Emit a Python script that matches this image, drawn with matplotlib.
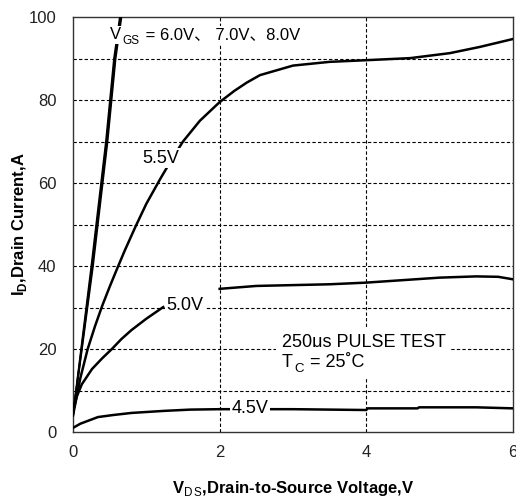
import matplotlib
matplotlib.use('Agg')
import matplotlib.pyplot as plt

plt.rcParams['font.family'] = ['Liberation Sans', 'Noto Sans CJK SC', 'DejaVu Sans']
plt.rcParams['mathtext.fontset'] = 'custom'
plt.rcParams['mathtext.rm'] = 'Liberation Sans'
plt.rcParams['mathtext.bf'] = 'Liberation Sans:bold'

# output characteristics
vgs6_x = [0, 0.25, 0.45, 0.56, 0.64]
vgs7_x = [0, 0.26, 0.46, 0.57, 0.65]
vgs8_x = [0, 0.27, 0.47, 0.58, 0.66]
vgs_hi_y = [4, 39.8, 70, 90, 100]

vgs55_x = [0, 0.1, 0.2, 0.3, 0.4, 0.5, 0.6, 0.71, 0.85, 1.0, 1.19, 1.35, 1.50, 1.73,
           2.0, 2.2, 2.37, 2.55, 3.0, 3.5, 4.0, 4.6, 5.14, 5.55, 6.0]
vgs55_y = [4, 13, 20, 25.5, 30.5, 35, 39.3, 43.9, 49.4, 55, 61, 65.8, 70, 75,
           79.5, 82.2, 84.2, 86, 88.3, 89.2, 89.6, 90.1, 91.3, 92.8, 94.7]

vgs50_x = [0, 0.05, 0.12, 0.26, 0.40, 0.53, 0.66, 0.80, 1.0, 1.23]
vgs50_y = [5, 8.5, 11.5, 15.2, 17.8, 20, 22.4, 24.6, 27.3, 30.1]
vgs50b_x = [2, 2.5, 3, 3.5, 4, 4.5, 5, 5.5, 5.8, 6]
vgs50b_y = [34.5, 35.2, 35.4, 35.6, 36, 36.6, 37.2, 37.5, 37.4, 36.8]

vgs45_x = [0, 0.1, 0.34, 0.55, 0.8, 1.25, 1.6, 2, 3, 3.5, 4, 4.02, 4.7, 4.72, 5.5, 6]
vgs45_y = [1, 2.0, 3.6, 4.1, 4.6, 5.1, 5.4, 5.5, 5.5, 5.4, 5.3, 5.7, 5.7, 5.95, 5.95, 5.7]

xticks = [0, 2, 4, 6]
yticks = [0, 20, 40, 60, 80, 100]

fig = plt.figure(figsize=(5.16, 5.01), dpi=100)
ax = fig.add_axes([0.1415, 0.1377, 0.8525, 0.8283])

for y in range(10, 100, 10):
    ax.axhline(y, color='black', lw=0.8, ls=(0, (3, 2)), zorder=1)
for x in [2, 4]:
    ax.axvline(x, color='black', lw=0.8, ls=(0, (3, 2)), zorder=1)

for xs in [vgs6_x, vgs7_x, vgs8_x]:
    ax.plot(xs, vgs_hi_y, color='black', lw=1.4, zorder=3)
ax.plot(vgs55_x, vgs55_y, color='black', lw=1.8, zorder=3)
ax.plot(vgs50_x, vgs50_y, color='black', lw=1.8, zorder=3)
ax.plot(vgs50b_x, vgs50b_y, color='black', lw=1.8, zorder=3)
ax.plot(vgs45_x, vgs45_y, color='black', lw=1.8, zorder=3)

ax.set_xlim(0, 6)
ax.set_ylim(0, 100)
ax.set_xticks(xticks)
ax.set_yticks(yticks)
ax.tick_params(axis='y', length=0, labelsize=12, colors='#222222', pad=12)
ax.tick_params(axis='x', length=0, labelsize=12, colors='#222222', pad=9)
for s in ax.spines.values():
    s.set_color('#333333')
    s.set_linewidth(1.0)

wbox = dict(facecolor='white', edgecolor='none', pad=1)
fs = 13

# V_GS label in pieces so the CJK comma can fall back to Noto
t1 = ax.text(0.5, 94.6, 'V', fontsize=12, va='baseline', bbox=wbox, zorder=5)
t2 = ax.annotate('GS', xy=(1, 0), xycoords=t1, xytext=(1, -3), textcoords='offset points',
                 fontsize=8.5, va='bottom', ha='left', bbox=wbox, zorder=5)
ax.annotate(' = 6.0V\u3001 7.0V\u30018.0V', xy=(1, 0), xycoords=t2, xytext=(1, 3),
            textcoords='offset points', fontsize=12, va='bottom', ha='left', bbox=wbox, zorder=5)

ax.text(0.95, 66, '5.5V', fontsize=fs, va='center', bbox=wbox, zorder=4)
ax.text(1.27, 30.5, '5.0V', fontsize=fs, va='center', bbox=wbox, zorder=4)
ax.text(2.16, 5.6, '4.5V', fontsize=fs, va='center', bbox=wbox, zorder=4)

ax.text(2.85, 21.6, '250\u03bcs PULSE TEST', fontsize=fs, va='center',
        bbox=dict(facecolor='white', edgecolor='none', pad=4), zorder=4)
t3 = ax.text(2.85, 15.6, 'T', fontsize=fs, va='baseline', zorder=5)
t4 = ax.annotate('C', xy=(1, 0), xycoords=t3, xytext=(1, -3), textcoords='offset points',
                 fontsize=9.5, va='bottom', ha='left', zorder=5)
ax.annotate(' = 25\u02daC', xy=(1, 0), xycoords=t4, xytext=(1, 3),
            textcoords='offset points', fontsize=fs, va='bottom', ha='left',
            bbox=dict(facecolor='white', edgecolor='none', pad=5), zorder=4)

ax.set_xlabel(r'$\mathbf{V}_{\mathrm{D\,S}}$,Drain-to-Source Voltage,V',
              fontsize=12, fontweight='bold', labelpad=14)
ax.set_ylabel(r'$\mathbf{I}_{\mathbf{D}}$,Drain Current,A',
              fontsize=12, fontweight='bold')
ax.yaxis.set_label_coords(-0.10, 0.5)

fig.savefig('out.png', dpi=100)
